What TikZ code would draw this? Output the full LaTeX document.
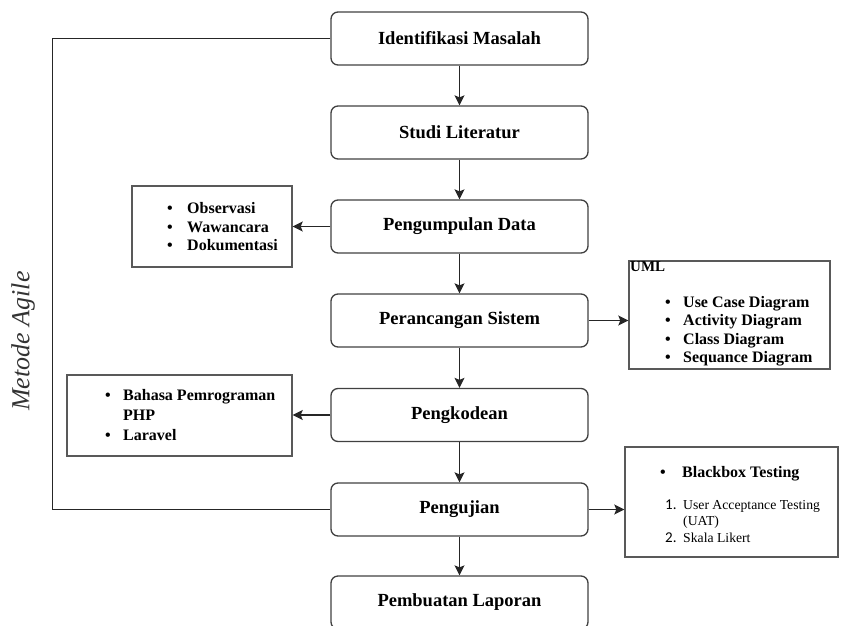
\documentclass[tikz,border=0pt]{standalone}
\usepackage{fontspec}
\setmainfont{Liberation Serif}
\newfontfamily\numfont{Carlito}
\usetikzlibrary{arrows.meta}
\begin{document}
\begin{tikzpicture}[x=1pt,y=-1pt,
  mainbox/.style={draw=black!75, line width=1.3pt, rounded corners=7pt, minimum width=257pt, minimum height=53pt, inner sep=0pt, font=\fontsize{18.5}{22}\selectfont\bfseries},
  listbox/.style={draw=black!65, line width=1.4pt, inner sep=0pt},
  itemtext/.style={anchor=base west, inner sep=0pt, font=\fontsize{16}{18}\selectfont\bfseries},
  plaintext/.style={anchor=base west, inner sep=0pt, font=\fontsize{13.7}{16}\selectfont},
  numtext/.style={anchor=base west, inner sep=0pt, font=\numfont\fontsize{15}{17}\selectfont},
  bul/.style={anchor=base, inner sep=0pt, font=\fontsize{16}{18}\selectfont\bfseries},
  arr/.style={draw=black!85, line width=1.3pt, -{Stealth[length=10pt,width=10pt,inset=2pt]}},
  loopline/.style={draw=black!85, line width=1.3pt}
]
\useasboundingbox (0,0) rectangle (847,625);

% main boxes
\node[mainbox] (b1) at (459.5,38.5) {Identifikasi Masalah};
\node[mainbox] (b2) at (459.5,132.5) {Studi Literatur};
\node[mainbox] (b3) at (459.5,226.5) {Pengumpulan Data};
\node[mainbox] (b4) at (459.5,320.5) {Perancangan Sistem};
\node[mainbox] (b5) at (459.5,415) {Pengkodean};
\node[mainbox] (b6) at (459.5,509.5) {Pengujian};
\node[mainbox] (b7) at (459.5,602.5) {Pembuatan Laporan};

\draw[arr] (b1) -- (b2);
\draw[arr] (b2) -- (b3);
\draw[arr] (b3) -- (b4);
\draw[arr] (b4) -- (b5);
\draw[arr] (b5) -- (b6);
\draw[arr] (b6) -- (b7);

% loop line
\coordinate (lt) at (52.5,38.5);
\coordinate (lb) at (52.5,509.5);
\draw[loopline] (b1.west) -- (lt) -- (lb) -- (b6.west);
\node[rotate=90, inner sep=0pt, text=black!80, font=\fontsize{26}{30}\selectfont\itshape] (agile) at (23,341) {Metode Agile};

% Observasi box
\node[listbox, minimum width=160pt, minimum height=81pt] (obs) at (212,226.5) {};
\draw[arr] (b3.west) -- (obs.east);
\node[bul] (o1b) at (170,213) {\textbullet};
\node[itemtext] (o1) at (187,213) {Observasi};
\node[bul] (o2b) at (170,232) {\textbullet};
\node[itemtext] (o2) at (187,232) {Wawancara};
\node[bul] (o3b) at (170,250.5) {\textbullet};
\node[itemtext] (o3) at (187,250.5) {Dokumentasi};

% UML box
\node[listbox, minimum width=201pt, minimum height=108pt] (uml) at (729.5,315) {};
\draw[arr] (b4.east) -- (b4.east -| uml.west);
\node[anchor=north west, inner sep=0pt, font=\fontsize{15}{17}\selectfont\bfseries] (umlt) at (630,261) {UML};
\node[bul] (u1b) at (668,307) {\textbullet};
\node[itemtext] (u1) at (683,307) {Use Case Diagram};
\node[bul] (u2b) at (668,325.5) {\textbullet};
\node[itemtext] (u2) at (683,325.5) {Activity Diagram};
\node[bul] (u3b) at (668,344) {\textbullet};
\node[itemtext] (u3) at (683,344) {Class Diagram};
\node[bul] (u4b) at (668,362.5) {\textbullet};
\node[itemtext] (u4) at (683,362.5) {Sequance Diagram};

% Bahasa box
\node[listbox, minimum width=225pt, minimum height=81pt] (bhs) at (179.5,415.5) {};
\draw[arr] (b5.west) -- (b5.west -| bhs.east);
\node[bul] (h1b) at (108,400) {\textbullet};
\node[itemtext] (h1) at (123,400) {Bahasa Pemrograman};
\node[itemtext] (h2) at (123,420) {PHP};
\node[bul] (h3b) at (108,440) {\textbullet};
\node[itemtext] (h3) at (123,440) {Laravel};

% Testing box
\node[listbox, minimum width=213pt, minimum height=110pt] (tst) at (731.5,502) {};
\draw[arr] (b6.east) -- (b6.east -| tst.west);
\node[bul] (t1b) at (663,477) {\textbullet};
\node[itemtext] (t1) at (682,477) {Blackbox Testing};
\node[numtext] (t2n) at (665,509) {1.};
\node[plaintext] (t2) at (683,509) {User Acceptance Testing};
\node[plaintext] (t3) at (683,525.5) {(UAT)};
\node[numtext] (t4n) at (665,542) {2.};
\node[plaintext] (t4) at (683,542) {Skala Likert};
\end{tikzpicture}
\end{document}
